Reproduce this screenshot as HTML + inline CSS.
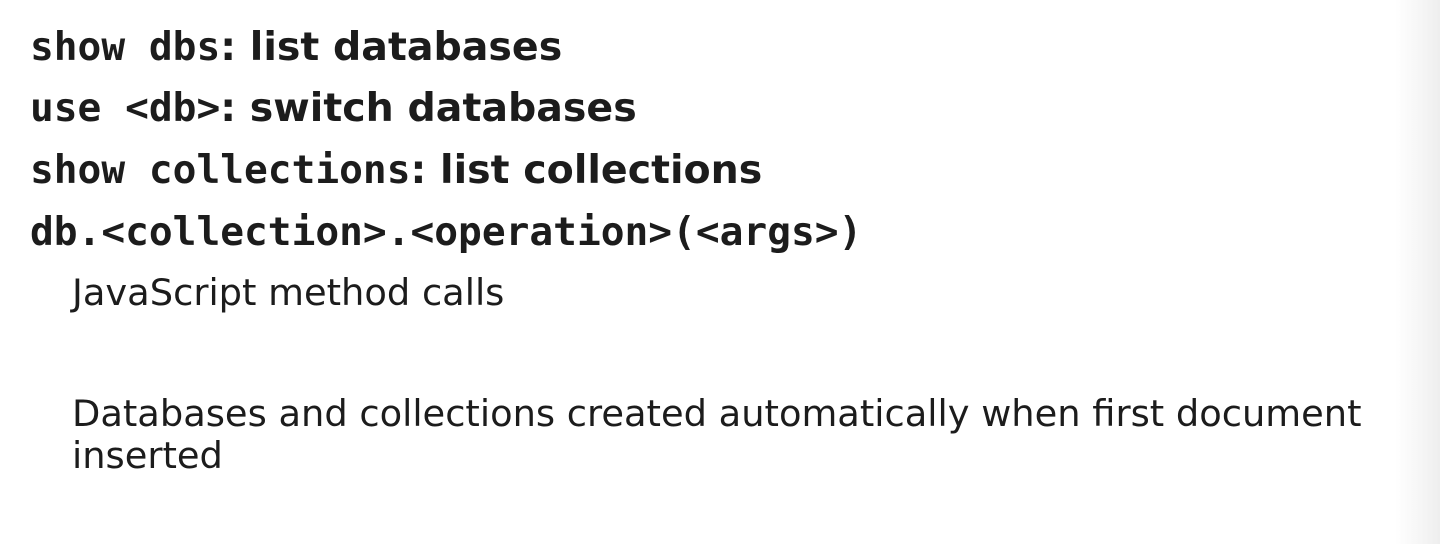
<!DOCTYPE html>
<html><head><meta charset="utf-8"><style>
html,body{margin:0;padding:0}
body{width:1440px;height:544px;overflow:hidden;position:relative;background:linear-gradient(to right,#fff 0,#fff 1395px,#f6f6f6 1420px,#eeeeee 1440px);color:#1c1c1c;font-family:"DejaVu Sans","Liberation Sans",sans-serif}
.l{position:absolute;left:30px;white-space:nowrap;font-weight:bold;font-size:39.5px;line-height:44px}
.m{font-family:"DejaVu Sans Mono","Liberation Mono",monospace;font-size:39.5px}
.p{position:absolute;left:72px;font-size:36.8px;line-height:42px;white-space:nowrap}
</style></head><body>
<div class="l" style="top:25px"><span class="m">show dbs</span>: list databases</div>
<div class="l" style="top:86px"><span class="m">use &lt;db&gt;</span>: switch databases</div>
<div class="l" style="top:148px"><span class="m">show collections</span>: list collections</div>
<div class="l" style="top:210px"><span class="m">db.&lt;collection&gt;.&lt;operation&gt;(&lt;args&gt;)</span></div>
<div class="p" style="top:272px">JavaScript method calls</div>
<div class="p" style="top:393px">Databases and collections created automatically when first document<br>inserted</div>
</body></html>
